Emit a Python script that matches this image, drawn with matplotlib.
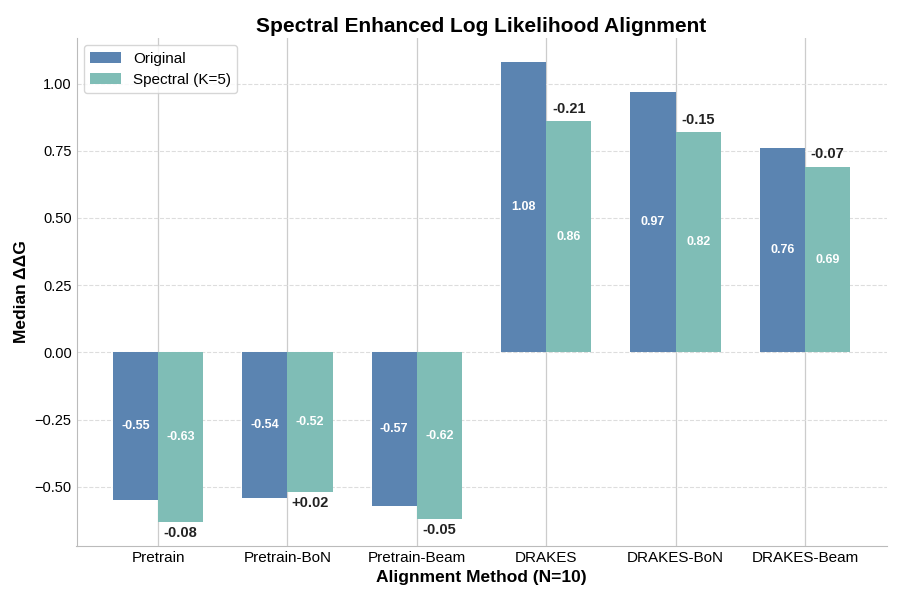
import matplotlib.pyplot as plt
import numpy as np

plt.rcParams['font.family'] = ['Liberation Sans', 'DejaVu Sans']

methods = ['Pretrain', 'Pretrain-BoN', 'Pretrain-Beam', 'DRAKES', 'DRAKES-BoN', 'DRAKES-Beam']
original = [-0.55, -0.54, -0.57, 1.08, 0.97, 0.76]
spectral = [-0.63, -0.52, -0.62, 0.86, 0.82, 0.69]
diffs = ['-0.08', '+0.02', '-0.05', '-0.21', '-0.15', '-0.07']

c_orig = '#5b84b1'
c_spec = '#7fbdb6'

fig, ax = plt.subplots(figsize=(9, 6), dpi=100)
x = np.arange(len(methods))
w = 0.35

ax.bar(x - w/2, original, w, color=c_orig, label='Original', zorder=3)
ax.bar(x + w/2, spectral, w, color=c_spec, label='Spectral (K=5)', zorder=3)

for i in range(len(methods)):
    ax.text(x[i] - w/2, original[i] / 2, f'{original[i]:.2f}', ha='center', va='center',
            color='white', fontsize=9, fontweight='bold', zorder=4)
    ax.text(x[i] + w/2, spectral[i] / 2, f'{spectral[i]:.2f}', ha='center', va='center',
            color='white', fontsize=9, fontweight='bold', zorder=4)
    if spectral[i] >= 0:
        ax.text(x[i] + w/2, spectral[i] + 0.02, diffs[i], ha='center', va='bottom',
                fontsize=10.5, fontweight='bold', color='#222222', zorder=4)
    else:
        ax.text(x[i] + w/2, spectral[i] - 0.015, diffs[i], ha='center', va='top',
                fontsize=10.5, fontweight='bold', color='#222222', zorder=4)

ax.set_xticks(x)
ax.set_xticklabels(methods, fontsize=11)
ax.set_ylim(-0.72, 1.17)
ax.set_xlim(-0.63, 5.63)
ax.set_yticks([-0.5, -0.25, 0, 0.25, 0.5, 0.75, 1.0])
ax.set_yticklabels(['\u22120.50', '\u22120.25', '0.00', '0.25', '0.50', '0.75', '1.00'], fontsize=10.5)
ax.tick_params(length=0)

ax.grid(axis='y', linestyle='--', color='#dddddd', linewidth=0.8, zorder=0)
ax.grid(axis='x', linestyle='-', color='#cccccc', linewidth=0.9, zorder=0)
for s in ['top', 'right']:
    ax.spines[s].set_visible(False)
for s in ['left', 'bottom']:
    ax.spines[s].set_color('#bbbbbb')

ax.set_xlabel('Alignment Method (N=10)', fontsize=12.5, fontweight='bold')
ax.set_ylabel('Median ΔΔG', fontsize=12.5, fontweight='bold')
ax.set_title('Spectral Enhanced Log Likelihood Alignment', fontsize=15, fontweight='bold', pad=4)
ax.legend(loc='upper left', fontsize=11, frameon=True, edgecolor='#cccccc')

plt.subplots_adjust(left=0.085, right=0.985, top=0.937, bottom=0.09)
plt.savefig('out.png', dpi=100, facecolor='white')
